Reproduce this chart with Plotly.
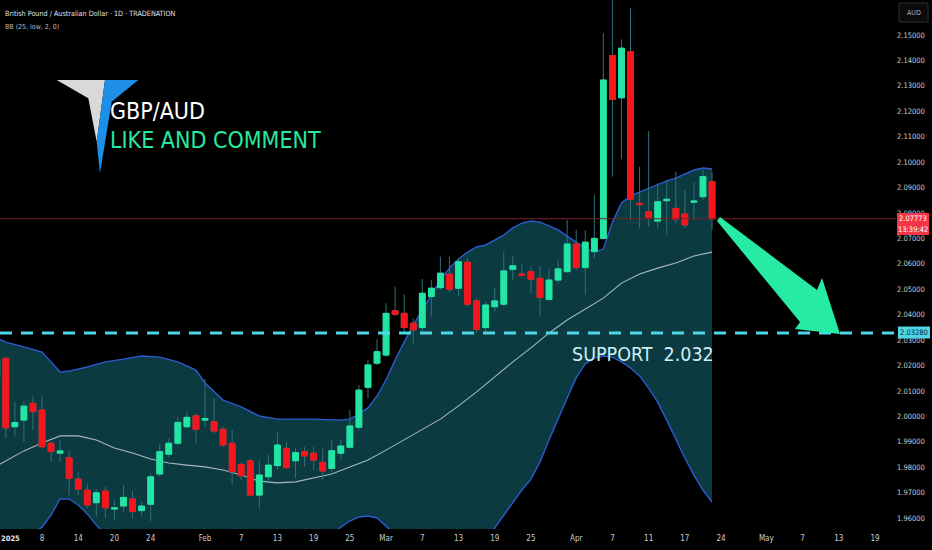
import pandas as pd
import plotly.graph_objects as go

# ---------------- data ----------------
HOLIDAYS = ["2025-01-01", "2025-04-18"]
FIRST_BAR = "2024-12-31"
LAST_BAR = "2025-04-23"
AXIS_LAST = "2025-05-30"

OPEN = [2.0156, 2.0228, 1.9959, 1.9985, 2.0051, 2.0025, 1.9894, 1.9855, 1.9837, 1.9753,
        1.9710, 1.9660, 1.9706, 1.9635, 1.9647, 1.9675, 1.9629, 1.9654, 1.9773, 1.9851,
        1.9894, 1.9959, 2.0002, 1.9985, 1.9979, 1.9949, 1.9894, 1.9811, 1.9825, 1.9690,
        1.9762, 1.9806, 1.9874, 1.9825, 1.9861, 1.9855, 1.9819, 1.9795, 1.9855, 1.9878,
        1.9957, 2.0114, 2.0209, 2.0241, 2.0415, 2.0405, 2.0366, 2.0349, 2.0471, 2.0506,
        2.0559, 2.0504, 2.0606, 2.0454, 2.0349, 2.0431, 2.0441, 2.0578, 2.0560, 2.0569,
        2.0543, 2.0460, 2.0536, 2.0569, 2.0678, 2.0585, 2.0648, 2.0700, 2.1419, 2.1253,
        2.1434, 2.0838, 2.0805, 2.0768, 2.0848, 2.0818, 2.0796, 2.0842, 2.0864, 2.0923]
HIGH = [2.0240, 2.0235, 2.0057, 2.0060, 2.0077, 2.0080, 1.9900, 1.9907, 1.9867, 1.9782,
        1.9734, 1.9713, 1.9723, 1.9671, 1.9730, 1.9706, 1.9664, 1.9773, 1.9894, 1.9913,
        1.9998, 2.0018, 2.0012, 2.0147, 2.0071, 1.9959, 1.9946, 1.9821, 1.9835, 1.9828,
        1.9848, 1.9939, 1.9900, 1.9874, 1.9880, 1.9880, 1.9874, 1.9907, 1.9907, 2.0025,
        2.0123, 2.0222, 2.0303, 2.0445, 2.0510, 2.0480, 2.0386, 2.0540, 2.0536, 2.0628,
        2.0628, 2.0623, 2.0623, 2.0466, 2.0450, 2.0506, 2.0648, 2.0631, 2.0598, 2.0589,
        2.0589, 2.0580, 2.0618, 2.0772, 2.0733, 2.0733, 2.0871, 2.1507, 2.1700, 2.1483,
        2.1605, 2.0982, 2.1122, 2.0917, 2.0930, 2.0962, 2.0890, 2.0919, 2.0969, 2.0962]
LOW = [2.0140, 1.9913, 1.9920, 1.9898, 1.9946, 1.9878, 1.9821, 1.9821, 1.9690, 1.9690,
       1.9638, 1.9605, 1.9601, 1.9592, 1.9625, 1.9599, 1.9605, 1.9588, 1.9762, 1.9839,
       1.9887, 1.9953, 1.9894, 1.9959, 1.9933, 1.9880, 1.9733, 1.9749, 1.9688, 1.9638,
       1.9743, 1.9789, 1.9795, 1.9756, 1.9802, 1.9789, 1.9749, 1.9769, 1.9828, 1.9871,
       1.9946, 2.0071, 2.0202, 2.0234, 2.0395, 2.0333, 2.0287, 2.0327, 2.0392, 2.0497,
       2.0489, 2.0471, 2.0431, 2.0328, 2.0332, 2.0412, 2.0434, 2.0536, 2.0552, 2.0484,
       2.0392, 2.0454, 2.0523, 2.0564, 2.0576, 2.0477, 2.0622, 2.0694, 2.0943, 2.1011,
       2.0772, 2.0740, 2.0746, 2.0740, 2.0713, 2.0759, 2.0741, 2.0772, 2.0851, 2.0733]
CLOSE = [2.0224, 1.9955, 1.9976, 2.0040, 2.0018, 1.9880, 1.9861, 1.9864, 1.9756, 1.9713,
         1.9651, 1.9699, 1.9640, 1.9640, 1.9681, 1.9625, 1.9647, 1.9762, 1.9861, 1.9894,
         1.9976, 1.9996, 1.9949, 1.9991, 1.9942, 1.9887, 1.9782, 1.9766, 1.9690, 1.9769,
         1.9808, 1.9887, 1.9798, 1.9857, 1.9844, 1.9828, 1.9785, 1.9865, 1.9883, 1.9962,
         2.0103, 2.0202, 2.0254, 2.0405, 2.0401, 2.0349, 2.0340, 2.0484, 2.0504, 2.0563,
         2.0500, 2.0608, 2.0441, 2.0342, 2.0438, 2.0454, 2.0572, 2.0592, 2.0555, 2.0539,
         2.0467, 2.0536, 2.0580, 2.0678, 2.0585, 2.0685, 2.0700, 2.1323, 2.1247, 2.1448,
         2.0854, 2.0834, 2.0781, 2.0844, 2.0854, 2.0775, 2.0753, 2.0847, 2.0943, 2.0777]

UPPER_DATES = ["2024-12-31", "2025-01-02", "2025-01-06", "2025-01-08", "2025-01-10", "2025-01-13",
               "2025-01-15", "2025-01-17", "2025-01-21", "2025-01-23", "2025-01-27", "2025-01-29",
               "2025-01-31", "2025-02-03", "2025-02-05", "2025-02-07", "2025-02-11", "2025-02-13",
               "2025-02-19", "2025-02-24", "2025-02-25", "2025-02-26", "2025-02-27", "2025-02-28",
               "2025-03-03", "2025-03-04", "2025-03-05", "2025-03-06", "2025-03-07", "2025-03-10",
               "2025-03-11", "2025-03-12", "2025-03-13", "2025-03-14", "2025-03-17", "2025-03-18",
               "2025-03-19", "2025-03-20", "2025-03-21", "2025-03-24", "2025-03-25", "2025-03-26",
               "2025-03-27", "2025-03-28", "2025-03-31", "2025-04-01", "2025-04-02", "2025-04-03",
               "2025-04-04", "2025-04-07", "2025-04-08", "2025-04-09", "2025-04-10", "2025-04-11",
               "2025-04-14", "2025-04-15", "2025-04-16", "2025-04-17", "2025-04-21", "2025-04-22",
               "2025-04-23"]
UPPER_BAND = [2.0308, 2.0292, 2.0273, 2.0253, 2.0174, 2.0178, 2.0194, 2.0214, 2.0225, 2.0237,
              2.0233, 2.0214, 2.0182, 2.0131, 2.0064, 2.0037, 2.0001, 1.9989, 1.9989, 1.9985,
              1.9989, 2.0009, 2.0033, 2.0080, 2.0143, 2.0222, 2.0292, 2.0359, 2.0418, 2.0477,
              2.0536, 2.0583, 2.0619, 2.0646, 2.0666, 2.0674, 2.0694, 2.0713, 2.0741, 2.0760,
              2.0768, 2.0764, 2.0749, 2.0733, 2.0709, 2.0686, 2.0662, 2.0646, 2.0658, 2.0764,
              2.0839, 2.0867, 2.0882, 2.0898, 2.0914, 2.0926, 2.0937, 2.0953, 2.0969, 2.0977,
              2.0973]

LOWER_DATES = ["2024-12-31", "2025-01-02", "2025-01-06", "2025-01-07", "2025-01-08", "2025-01-09",
               "2025-01-10", "2025-01-13", "2025-01-14", "2025-01-15", "2025-01-16", "2025-01-17",
               "2025-01-21", "2025-01-27", "2025-02-03", "2025-02-10", "2025-02-17", "2025-02-21",
               "2025-02-24", "2025-02-25", "2025-02-26", "2025-02-27", "2025-02-28", "2025-03-03",
               "2025-03-04", "2025-03-06", "2025-03-11", "2025-03-14", "2025-03-18", "2025-03-19",
               "2025-03-20", "2025-03-21", "2025-03-24", "2025-03-25", "2025-03-26", "2025-03-27",
               "2025-03-28", "2025-03-31", "2025-04-01", "2025-04-02", "2025-04-03", "2025-04-04",
               "2025-04-07", "2025-04-08", "2025-04-09", "2025-04-10", "2025-04-11", "2025-04-14",
               "2025-04-15", "2025-04-16", "2025-04-17", "2025-04-21", "2025-04-22", "2025-04-23"]
LOWER_BAND = [1.9415, 1.9454, 1.9513, 1.9541, 1.9564, 1.9612, 1.9675, 1.9675, 1.9651, 1.9616,
              1.9572, 1.9533, 1.9474, 1.9435, 1.9435, 1.9466, 1.9494, 1.9533, 1.9564, 1.9588,
              1.9604, 1.9608, 1.9600, 1.9568, 1.9533, 1.9474, 1.9435, 1.9454, 1.9513, 1.9561,
              1.9612, 1.9663, 1.9710, 1.9753, 1.9820, 1.9907, 1.9993, 2.0072, 2.0151, 2.0206,
              2.0229, 2.0237, 2.0233, 2.0214, 2.0190, 2.0159, 2.0111, 2.0056, 1.9985, 1.9907,
              1.9836, 1.9769, 1.9710, 1.9663]

BASIS_DATES = ["2024-12-31", "2025-01-02", "2025-01-06", "2025-01-08", "2025-01-10", "2025-01-14",
               "2025-01-16", "2025-01-20", "2025-01-22", "2025-01-24", "2025-01-28", "2025-01-30",
               "2025-02-03", "2025-02-05", "2025-02-07", "2025-02-11", "2025-02-13", "2025-02-17",
               "2025-02-19", "2025-02-21", "2025-02-25", "2025-02-27", "2025-03-03", "2025-03-05",
               "2025-03-07", "2025-03-11", "2025-03-13", "2025-03-17", "2025-03-19", "2025-03-21",
               "2025-03-25", "2025-03-27", "2025-03-31", "2025-04-02", "2025-04-04", "2025-04-08",
               "2025-04-10", "2025-04-14", "2025-04-16", "2025-04-21", "2025-04-23"]
BASIS = [1.9805, 1.9824, 1.9864, 1.9895, 1.9923, 1.9923, 1.9907, 1.9875, 1.9856, 1.9832,
         1.9816, 1.9808, 1.9801, 1.9789, 1.9769, 1.9745, 1.9738, 1.9742, 1.9757, 1.9773,
         1.9801, 1.9828, 1.9867, 1.9907, 1.9946, 1.9989, 2.0041, 2.0096, 2.0155, 2.0214,
         2.0269, 2.0328, 2.0379, 2.0422, 2.0465, 2.0524, 2.0560, 2.0583, 2.0603, 2.0631,
         2.0646]

YEAR_LABEL = "2025"
TICK_DATES = ["2025-01-08", "2025-01-14", "2025-01-20", "2025-01-24", "2025-02-03",
              "2025-02-07", "2025-02-13", "2025-02-19", "2025-02-25", "2025-03-03", "2025-03-07",
              "2025-03-13", "2025-03-19", "2025-03-25", "2025-04-01", "2025-04-07", "2025-04-11",
              "2025-04-17", "2025-04-24", "2025-05-01", "2025-05-07", "2025-05-13", "2025-05-19"]
TICK_LABELS = ["8", "14", "20", "24", "Feb", "7", "13", "19", "25", "Mar", "7",
               "13", "19", "25", "Apr", "7", "11", "17", "24", "May", "7", "13", "19"]
PRICE_TICKS = [1.96, 1.97, 1.98, 1.99, 2.00, 2.01, 2.02, 2.03, 2.04, 2.05,
               2.06, 2.07, 2.08, 2.09, 2.10, 2.11, 2.12, 2.13, 2.14, 2.15]

SUPPORT_LEVEL = 2.0328
LAST_PRICE = 2.07773
COUNTDOWN = "13:39:42"

# ---------------- style ----------------
W, H = 932, 550
PLOT_W, PLOT_H = 896, 529
X_RANGE = [-0.64, 98.32]
Y_RANGE = [1.95567, 2.16377]

BG = "#000000"
UP = "#22e6a3"
DOWN = "#f5161c"
WICK = "#2f7279"
BAND_LINE = "#2d5bd0"
BAND_FILL = "#0b3a41"
BASIS_LINE = "#a9b8bd"
CYAN = "#4fd6e6"
ARROW = "#26eba5"
TXT = "#c9ccd3"
FONT = "DejaVu Sans Condensed, Liberation Sans Narrow, sans-serif"


def px(x):
    return x / PLOT_W


def py(y):
    return 1 - y / PLOT_H


def poly(points):
    return "M " + " L ".join(f"{px(a):.5f} {py(b):.5f}" for a, b in points) + " Z"


# ---------------- calendar -> bar index ----------------
cal = [d for d in pd.bdate_range(FIRST_BAR, AXIS_LAST) if d.strftime("%Y-%m-%d") not in HOLIDAYS]
pos = {d.strftime("%Y-%m-%d"): k - 1 for k, d in enumerate(cal)}
candle_dates = [d.strftime("%Y-%m-%d") for d in cal if d <= pd.Timestamp(LAST_BAR)]
cx = [pos[d] for d in candle_dates]
assert len(cx) == len(OPEN) == len(HIGH) == len(LOW) == len(CLOSE)

body_hi = [max(o, c) for o, c in zip(OPEN, CLOSE)]
body_lo = [min(o, c) for o, c in zip(OPEN, CLOSE)]

fig = go.Figure()

# Bollinger band (main axes, drawn under candles)
fig.add_trace(go.Scatter(x=[pos[d] for d in UPPER_DATES], y=UPPER_BAND, mode="lines",
                         line=dict(color=BAND_LINE, width=1.4), hoverinfo="skip"))
fig.add_trace(go.Scatter(x=[pos[d] for d in LOWER_DATES], y=LOWER_BAND, mode="lines",
                         line=dict(color=BAND_LINE, width=1.4), fill="tonexty",
                         fillcolor=BAND_FILL, hoverinfo="skip"))
fig.add_trace(go.Scatter(x=[pos[d] for d in BASIS_DATES], y=BASIS, mode="lines",
                         line=dict(color=BASIS_LINE, width=1.1), hoverinfo="skip"))

# candles on an overlaying pair of axes so they sit above the band
fig.add_trace(go.Candlestick(
    x=cx, open=OPEN, high=HIGH, low=LOW, close=CLOSE, xaxis="x2", yaxis="y2",
    increasing=dict(line=dict(color=WICK, width=1), fillcolor=WICK),
    decreasing=dict(line=dict(color=WICK, width=1), fillcolor=WICK),
    hoverinfo="skip"))
fig.add_trace(go.Candlestick(
    x=cx, open=OPEN, high=body_hi, low=body_lo, close=CLOSE, xaxis="x2", yaxis="y2",
    increasing=dict(line=dict(color=UP, width=1), fillcolor=UP),
    decreasing=dict(line=dict(color=DOWN, width=1), fillcolor=DOWN),
    hoverinfo="skip"))

axis_font = dict(family=FONT, size=7.5, color=TXT)
fig.update_layout(
    width=W, height=H,
    margin=dict(l=0, r=W - PLOT_W, t=0, b=H - PLOT_H, autoexpand=False),
    paper_bgcolor=BG, plot_bgcolor=BG,
    showlegend=False,
    boxgap=0.2, boxgroupgap=0.2,
    xaxis=dict(range=X_RANGE, tickvals=[pos[d] for d in TICK_DATES], ticktext=TICK_LABELS,
               showgrid=False, zeroline=False, showline=False, ticks="",
               ticklabelstandoff=3, automargin=False,
               tickfont=dict(family=FONT, size=8, color=TXT), fixedrange=True),
    yaxis=dict(range=Y_RANGE, side="right", tickvals=PRICE_TICKS, tickformat=".5f",
               showgrid=False, zeroline=False, showline=False, ticks="", automargin=False,
               tickfont=axis_font, fixedrange=True),
    xaxis2=dict(range=X_RANGE, overlaying="x", anchor="y2", visible=False,
                rangeslider=dict(visible=False), fixedrange=True),
    yaxis2=dict(range=Y_RANGE, overlaying="y", anchor="x2", visible=False, fixedrange=True),
    font=dict(family=FONT),
)

shapes = []
# current price line
shapes.append(dict(type="line", xref="paper", yref="y", x0=0, x1=1, y0=LAST_PRICE, y1=LAST_PRICE,
                   line=dict(color="#7a1f26", width=1), layer="above"))
# support line
shapes.append(dict(type="line", xref="paper", yref="y", x0=0, x1=px(898), y0=SUPPORT_LEVEL,
                   y1=SUPPORT_LEVEL, line=dict(color=CYAN, width=3, dash="12px,9px"), layer="above"))
# arrow
shapes.append(dict(type="path", xref="paper", yref="paper", layer="above",
                   path=poly([(720, 217), (817, 290), (822, 278), (840, 334), (795, 329),
                              (800, 322), (717, 221)]),
                   fillcolor=ARROW, line=dict(width=0)))
# logo
shapes.append(dict(type="path", xref="paper", yref="paper", layer="above",
                   path=poly([(56.7, 80), (105, 80), (96.7, 141.7), (88.3, 98.3)]),
                   fillcolor="#d9d9d9", line=dict(width=0)))
shapes.append(dict(type="path", xref="paper", yref="paper", layer="above",
                   path=poly([(105, 80), (138.3, 80), (111.7, 101.7), (100, 173.3), (96.7, 141.7)]),
                   fillcolor="#1e8fe6", line=dict(width=0)))
# price scale boxes
shapes.append(dict(type="rect", xref="paper", yref="paper", layer="above",
                   x0=px(899), x1=px(928), y0=py(3), y1=py(22),
                   fillcolor="#0b0b0b", line=dict(color="#2a2e39", width=1)))
shapes.append(dict(type="rect", xref="paper", yref="paper", layer="above",
                   x0=px(897), x1=px(929), y0=py(213), y1=py(235),
                   fillcolor="#f23645", line=dict(width=0)))
shapes.append(dict(type="rect", xref="paper", yref="paper", layer="above",
                   x0=px(898), x1=px(930), y0=py(326.5), y1=py(338.5),
                   fillcolor=CYAN, line=dict(width=0)))
fig.update_layout(shapes=shapes)

ann = []


def label(text, x, y, size, color, anchor="left", bold=False):
    ann.append(dict(text=f"<b>{text}</b>" if bold else text, x=px(x), y=py(y), xref="paper",
                    yref="paper", xanchor=anchor, yanchor="middle", showarrow=False,
                    font=dict(family=FONT, size=size, color=color)))


label("British Pound / Australian Dollar · 1D · TRADENATION", 3, 13, 7.2, "#e0e3ea")
label("BB (25, low, 2, 0)", 3, 27, 7, "#b8bcc5")
label("GBP/AUD", 108, 111, 23, "#ffffff")
label("LIKE AND COMMENT", 108, 140, 23, "#27e89e")
label("SUPPORT  2.032", 570, 354, 19.5, "#cdeef5")
label("AUD", 913.5, 12.5, 7, "#b2b5be", anchor="center")
label(f"{LAST_PRICE:.5f}", 913, 219, 7.5, "#ffffff", anchor="center")
label(COUNTDOWN, 913, 229, 7.5, "#ffffff", anchor="center")
label(f"{SUPPORT_LEVEL:.5f}", 914, 332.5, 7.5, "#05262c", anchor="center")
label(YEAR_LABEL, -1, 538, 7.5, "#e6e8ec", bold=True)
fig.update_layout(annotations=ann)

fig.write_html("out.html", config=dict(displayModeBar=False),
               post_script="document.body.style.margin='0';document.body.style.overflow='hidden';")
